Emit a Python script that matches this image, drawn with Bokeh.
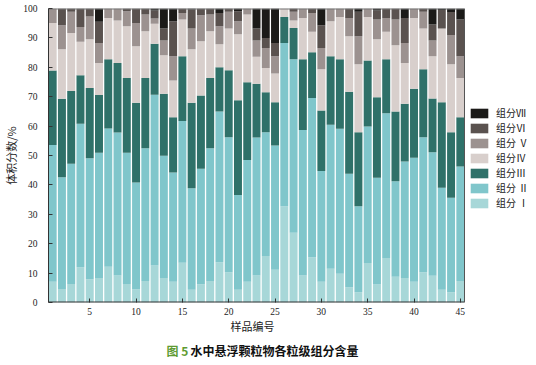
from bokeh.plotting import figure
from bokeh.models import ColumnDataSource, Range1d, Legend, LegendItem, Title
from bokeh.embed import file_html
from bokeh.resources import INLINE

samples = list(range(1, 46))
comp_I = [7.1,4.6,6.3,12.0,7.9,8.3,12.2,9.2,6.3,4.5,7.3,12.6,8.3,7.1,13.5,4.3,6.2,7.3,13.7,10.3,4.3,7.1,9.2,15.8,11.1,32.7,23.7,9.2,15.4,7.1,11.5,9.8,5.2,3.5,13.4,6.1,15.1,8.8,8.3,7.1,10.3,9.1,4.3,3.5,7.3]
comp_II = [46.5,38.0,40.9,48.8,41.2,42.6,47.0,48.6,44.6,36.3,45.2,58.1,41.6,37.1,48.2,34.6,39.3,45.2,51.3,45.9,32.3,41.4,46.9,42.1,42.3,55.6,59.0,49.5,54.2,37.6,49.0,49.3,38.6,29.2,46.5,36.3,49.3,32.4,39.7,42.1,45.9,42.0,34.7,32.1,39.0]
comp_III = [25.3,26.7,24.7,16.5,23.9,19.7,23.5,23.7,25.5,27.1,23.9,17.3,21.1,18.8,22.1,29.0,24.9,23.9,15.0,22.8,32.2,26.4,18.3,13.6,14.7,8.8,10.7,24.0,15.5,20.6,23.3,23.6,27.9,25.2,22.4,27.4,18.3,23.8,19.6,23.5,23.1,18.3,29.1,22.3,16.7]
comp_IV = [16.2,16.8,19.8,11.4,16.5,10.9,14.1,14.4,17.6,19.3,15.9,6.8,13.1,12.5,12.5,18.2,18.5,15.9,7.8,14.2,22.4,23.1,9.2,8.3,9.8,2.9,2.5,14.1,7.0,14.0,11.9,14.4,18.9,23.1,14.8,19.7,9.4,22.5,13.9,24.1,13.9,14.4,25.1,23.1,13.4]
comp_V = [4.9,8.2,7.2,5.0,7.8,6.8,3.2,4.1,5.1,7.9,5.7,1.8,5.0,8.3,2.2,7.1,8.8,5.7,6.2,5.7,4.5,2.0,5.5,6.8,5.9,0.0,3.0,3.2,6.4,7.3,4.3,2.9,6.2,9.6,2.9,6.8,4.7,8.8,6.8,3.2,5.7,5.3,0.0,10.0,7.4]
comp_VI = [0.0,5.7,1.1,6.3,2.7,7.2,0.0,0.0,0.9,4.9,2.0,2.7,4.1,11.9,1.5,6.5,2.3,2.0,4.5,1.1,3.4,0.0,4.1,3.4,4.5,0.0,1.1,0.0,1.5,7.7,0.0,0.0,3.2,8.3,0.0,3.0,3.2,3.7,8.5,0.0,1.1,5.5,6.3,7.8,12.5]
comp_VII = [0.0,0.0,0.0,0.0,0.0,4.5,0.0,0.0,0.0,0.0,0.0,0.7,6.8,4.3,0.0,0.3,0.0,0.0,1.5,0.0,0.9,0.0,6.8,10.0,11.7,0.0,0.0,0.0,0.0,5.7,0.0,0.0,0.0,1.1,0.0,0.7,0.0,0.0,3.2,0.0,0.0,5.4,0.5,1.2,3.7]

keys = ["I", "II", "III", "IV", "V", "VI", "VII"]
legend_labels = ["组分 Ⅰ", "组分 Ⅱ", "组分Ⅲ", "组分Ⅳ", "组分 Ⅴ", "组分Ⅵ", "组分Ⅶ"]
colors = ["#a7d7d8", "#80c6cb", "#2f7169", "#d8cfcc", "#9c9290", "#5a524f", "#1b1a18"]
x_ticks = [5, 10, 15, 20, 25, 30, 35, 40, 45]
y_ticks = [0, 10, 20, 30, 40, 50, 60, 70, 80, 90, 100]
x_label = "样品编号"
y_label = "体积分数/%"
caption_num = "图 5"
caption_text = "水中悬浮颗粒物各粒级组分含量"

source = ColumnDataSource(dict(x=samples, I=comp_I, II=comp_II, III=comp_III, IV=comp_IV,
                               V=comp_V, VI=comp_VI, VII=comp_VII))

serif = "'Liberation Serif', 'Noto Sans CJK SC'"
cjk = "'Noto Sans CJK SC'"

# plot box spans x_lo..x_hi (416 px); frame extended to the right to host the legend (72 px)
x_lo, x_hi = 0.55, 45.45
x_end = x_hi + (x_hi - x_lo) * 72 / 416
y_lo, y_hi = 0, 100

p = figure(width=536, height=364, output_backend="svg", toolbar_location=None,
           x_range=Range1d(x_lo, x_end), y_range=Range1d(y_lo, y_hi),
           min_border_left=48, min_border_right=0, min_border_top=8, min_border_bottom=62)

renderers = p.vbar_stack(keys, x="x", width=0.86, source=source, color=colors, line_color=None)

p.grid.visible = False
p.outline_line_color = None

# box around the plotting area
p.segment(x0=[x_lo], y0=[y_lo], x1=[x_hi], y1=[y_lo], line_color="#333333", line_width=2)
p.segment(x0=[x_lo], y0=[y_hi], x1=[x_hi], y1=[y_hi], line_color="#777777", line_width=2)
p.segment(x0=[x_hi], y0=[y_lo], x1=[x_hi], y1=[y_hi], line_color="#555555", line_width=1)

for ax in (p.xaxis[0], p.yaxis[0]):
    ax.major_tick_line_color = "#333333"
    ax.major_tick_in = 4
    ax.major_tick_out = 0
    ax.minor_tick_line_color = None
    ax.major_label_text_font = serif
    ax.major_label_text_font_size = "9.5px"
    ax.major_label_text_color = "#222222"
    ax.axis_label_text_font = cjk
    ax.axis_label_text_font_size = "11px"
    ax.axis_label_text_font_style = "normal"
    ax.axis_label_text_color = "#222222"

p.xaxis.axis_line_color = None
p.yaxis.axis_line_color = "#333333"
p.xaxis.ticker = x_ticks
p.yaxis.ticker = y_ticks
p.yaxis.axis_label = y_label
p.xaxis.major_label_standoff = 5
p.yaxis.major_label_standoff = 11
p.yaxis.axis_label_standoff = 1

items = [LegendItem(label=legend_labels[i], renderers=[renderers[i]]) for i in range(6, -1, -1)]
legend = Legend(items=items, location=(420, 92), orientation="vertical",
                glyph_width=22, glyph_height=12, label_height=12, spacing=0,
                label_standoff=6, padding=0, margin=0,
                border_line_color=None, background_fill_alpha=0,
                label_text_font=serif, label_text_font_size="10px", label_text_color="#222222")
p.add_layout(legend, "center")

t_xlabel = Title(text=x_label, align="left", offset=182, standoff=0, vertical_align="top",
                 text_font=cjk, text_font_size="11px", text_font_style="normal", text_color="#222222")
t_text = Title(text=caption_text, align="left", offset=142, standoff=8, vertical_align="bottom",
               text_font=cjk, text_font_size="12px", text_font_style="bold", text_color="#111111")
t_num = Title(text=caption_num, align="left", offset=118, standoff=-42, vertical_align="top",
              text_font=cjk, text_font_size="12px", text_font_style="bold", text_color="#5e9b32")
p.add_layout(t_xlabel, "below")
p.add_layout(t_text, "below")
p.add_layout(t_num, "below")

open("out.html", "w").write(file_html(p, INLINE))
